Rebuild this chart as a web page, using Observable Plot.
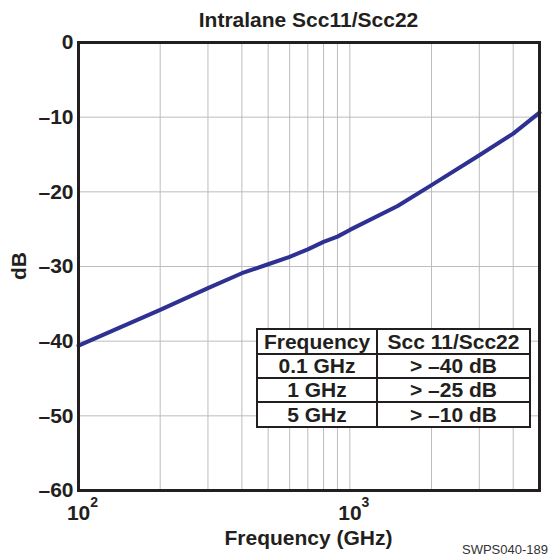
<!DOCTYPE html>
<html>
<head>
<meta charset="utf-8">
<script src="https://cdn.jsdelivr.net/npm/d3@7"></script>
<script src="https://cdn.jsdelivr.net/npm/@observablehq/plot@0.6"></script>
<style>
  html, body { margin: 0; padding: 0; background: #fff; }
  #wrap { position: relative; width: 548px; height: 556px; overflow: hidden;
          font-family: "Liberation Sans", Arial, Helvetica, sans-serif; color: #231f20; }
  #chart { position: absolute; left: 0; top: 0; }
  .lbl { position: absolute; font-weight: bold; font-size: 21px; line-height: 21px; white-space: nowrap; }
  #title { left: 78px; width: 461px; top: 9px; text-align: center; }
  #xlabel { left: 78px; width: 461px; top: 527px; text-align: center; }
  #ylabel { left: 18px; top: 266px; transform: translate(-50%, -50%) rotate(-90deg); }
  #caption { position: absolute; left: 462px; top: 543px; font-size: 13px; line-height: 13px; color: #333; white-space: nowrap; }
  #spec { position: absolute; left: 256px; top: 328px; border-collapse: collapse; background: #fff;
          font-weight: bold; font-size: 21px; }
  #spec td { border: 2px solid #231f20; padding: 0; text-align: center; line-height: 20px; }
</style>
</head>
<body>
<div id="wrap">
  <div id="chart"></div>
  <div id="title" class="lbl">Intralane Scc11/Scc22</div>
  <div id="ylabel" class="lbl">dB</div>
  <div id="xlabel" class="lbl">Frequency (GHz)</div>
  <div id="caption">SWPS040-189</div>
  <table id="spec"></table>
</div>
<script>
// Measured common-mode return loss (Scc11/Scc22) versus frequency
const freq = [100, 200, 300, 400, 500, 600, 700, 800, 900, 1000, 1500, 2000, 3000, 4000, 5000];
const scc = [-40.6, -35.8, -32.9, -30.9, -29.7, -28.7, -27.7, -26.7, -26.0, -25.1, -21.9, -19.1, -15.1, -12.2, -9.4];

// Axis ticks and grid positions
const yTicks = [-60, -50, -40, -30, -20, -10, 0];
const xGrid = [200, 300, 400, 500, 600, 700, 800, 900, 1000, 2000, 3000, 4000];
const xLabelTicks = [100, 1000];
const xLabelExp = ["2", "3"];

// Specification table
const specHeader = ["Frequency", "Scc 11/Scc22"];
const specFreq = ["0.1 GHz", "1 GHz", "5 GHz"];
const specLimit = ["> \u201340 dB", "> \u201325 dB", "> \u201310 dB"];

const points = freq.map((f, i) => ({freq: f, db: scc[i]}));

const plot = Plot.plot({
  width: 548,
  height: 556,
  marginLeft: 78,
  marginRight: 9,
  marginTop: 42,
  marginBottom: 66,
  style: {
    fontFamily: '"Liberation Sans", Arial, Helvetica, sans-serif',
    fontWeight: "bold",
    fontSize: "21px",
    color: "#231f20",
    background: "transparent"
  },
  x: {type: "log", domain: [100, 5000]},
  y: {domain: [-60, 0]},
  marks: [
    Plot.gridX(xGrid, {stroke: "#bdbdbd", strokeOpacity: 1, strokeWidth: 1}),
    Plot.gridY(yTicks, {stroke: "#bdbdbd", strokeOpacity: 1, strokeWidth: 1}),
    Plot.line(points, {x: "freq", y: "db", stroke: "#2e3192", strokeWidth: 4, strokeLinejoin: "round"}),
    Plot.frame({stroke: "#231f20", strokeWidth: 3}),
    Plot.axisY(yTicks, {
      tickSize: 0, tickPadding: 5, label: null,
      tickFormat: d => d === 0 ? "0" : "\u2013" + Math.abs(d)
    }),
    Plot.axisX(xLabelTicks, {
      tickSize: 0, tickPadding: 15, label: null, dx: 4,
      tickFormat: d => "10"
    })
  ]
});
document.getElementById("chart").appendChild(plot);

// Superscript exponents on the decade labels
d3.select(plot).selectAll('g[aria-label="x-axis tick label"] text').each(function(d, i) {
  d3.select(this).append("tspan")
    .attr("dy", "-13")
    .attr("font-size", "14px")
    .text(xLabelExp[i]);
});

// Build the spec table
const table = d3.select("#spec");
const colW = [118, 151];
const rowH = [25, 24, 24, 25];
const rows = [specHeader].concat(specFreq.map((f, i) => [f, specLimit[i]]));
rows.forEach((r, ri) => {
  const tr = table.append("tr");
  r.forEach((c, ci) => {
    tr.append("td")
      .style("width", colW[ci] + "px")
      .style("height", (rowH[ri] - 2) + "px")
      .text(c);
  });
});
</script>
</body>
</html>
